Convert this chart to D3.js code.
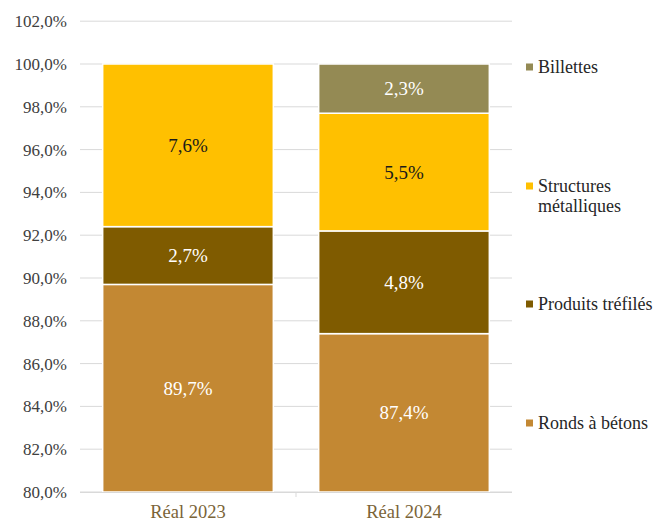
<!DOCTYPE html>
<html><head><meta charset="utf-8">
<script src="https://cdn.jsdelivr.net/npm/d3@7"></script>
<style>body{margin:0;background:#fff}svg{display:block}svg text{font-family:"Liberation Serif","DejaVu Serif",serif}</style>
</head><body>
<svg id="c" width="658" height="522"></svg>
<script>
const categories = ["Réal 2023", "Réal 2024"];
const seriesNames = ["Ronds à bétons", "Produits tréfilés", "Structures métalliques", "Billettes"];
const ronds = [89.7, 87.4];
const produits = [2.7, 4.8];
const structures = [7.6, 5.5];
const billettes = [0, 2.3];
const yTicks = [80, 82, 84, 86, 88, 90, 92, 94, 96, 98, 100, 102];

const colors = ["#C38833", "#7F5B00", "#FFC000", "#948A54"];
const labelColors = ["#fff", "#fff", "#1a1a1a", "#fff"];
const values = [ronds, produits, structures, billettes];

const svg = d3.select("#c");
const x = d3.scaleBand().domain(categories).range([80, 512]).paddingInner(0.21).paddingOuter(0.105);
const y = d3.scaleLinear().domain([80, 102]).range([492, 21.2]);

svg.append("g").selectAll("line").data(yTicks).join("line")
  .attr("x1", 80).attr("x2", 512)
  .attr("y1", d => y(d)).attr("y2", d => y(d))
  .attr("stroke", "#d9d9d9").attr("stroke-width", 1);

svg.append("g").selectAll("text").data(yTicks).join("text")
  .attr("x", 67).attr("y", d => y(d)).attr("dy", "0.35em")
  .attr("text-anchor", "end").attr("font-size", 17)
  .attr("fill", "#404040")
  .text(d => d3.format(".1f")(d).replace(".", ",") + "%");

const stackData = categories.map((c, i) => {
  const o = {cat: c};
  seriesNames.forEach((s, j) => o[s] = values[j][i]);
  return o;
});
const stack = d3.stack().keys(seriesNames)(stackData);
const clampLow = v => Math.max(v, 80);

stack.forEach((layer, j) => {
  const g = svg.append("g");
  layer.forEach((seg, i) => {
    const v = seg[1] - seg[0];
    if (v <= 0) return;
    const y0 = y(clampLow(seg[0])), y1 = y(seg[1]);
    g.append("rect")
      .attr("x", x(categories[i])).attr("width", x.bandwidth())
      .attr("y", y1).attr("height", y0 - y1)
      .attr("fill", colors[j]).attr("stroke", "#fff").attr("stroke-width", 1.5);
    g.append("text")
      .attr("x", x(categories[i]) + x.bandwidth() / 2).attr("y", (y0 + y1) / 2).attr("dy", "0.35em")
      .attr("text-anchor", "middle").attr("font-size", 19)
      .attr("fill", labelColors[j])
      .text(d3.format(".1f")(v).replace(".", ",") + "%");
  });
});

svg.append("line").attr("x1", 80).attr("x2", 512).attr("y1", 492.5).attr("y2", 492.5)
  .attr("stroke", "#d9d9d9");
svg.append("line").attr("x1", 296).attr("x2", 296).attr("y1", 492).attr("y2", 497)
  .attr("stroke", "#d9d9d9");
svg.append("g").selectAll("text").data(categories).join("text")
  .attr("x", d => x(d) + x.bandwidth() / 2).attr("y", 512).attr("dy", "0.35em")
  .attr("text-anchor", "middle").attr("font-size", 18.5)
  .attr("fill", "#7a6438").text(d => d);

const legendItems = [
  {name: ["Billettes"], color: colors[3], y: 67},
  {name: ["Structures", "métalliques"], color: colors[2], y: 186},
  {name: ["Produits tréfilés"], color: colors[1], y: 304},
  {name: ["Ronds à bétons"], color: colors[0], y: 423}
];
const lg = svg.append("g");
legendItems.forEach(it => {
  lg.append("rect").attr("x", 526).attr("y", it.y - 3.5).attr("width", 7).attr("height", 7).attr("fill", it.color);
  it.name.forEach((t, k) => {
    lg.append("text").attr("x", 538).attr("y", it.y + k * 20).attr("dy", "0.35em")
      .attr("font-size", 18).attr("fill", "#262626").text(t);
  });
});
</script>
</body></html>
